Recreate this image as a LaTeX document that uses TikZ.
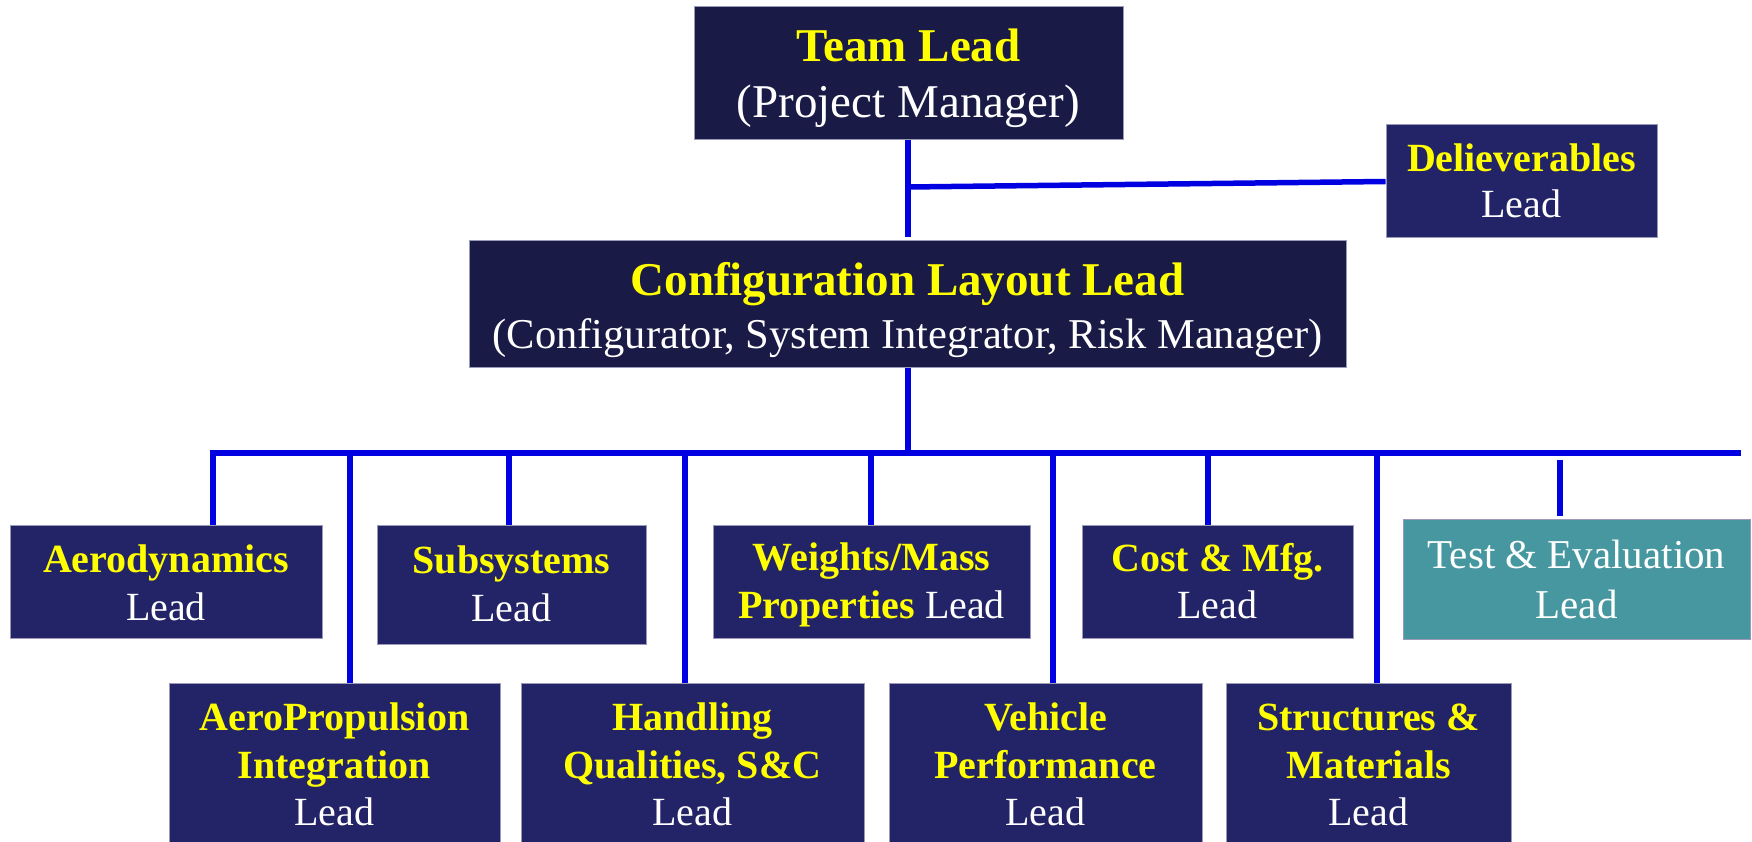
\documentclass[tikz,border=0pt]{standalone}
\usepackage{fontspec}
\setmainfont{Liberation Serif}
\definecolor{darknavy}{HTML}{1A1A47}
\definecolor{navy}{HTML}{232368}
\definecolor{tealbox}{HTML}{46979F}
\definecolor{edgegrey}{HTML}{9A9AB8}
\definecolor{linkblue}{HTML}{0000E0}
\definecolor{headyellow}{HTML}{FFFF00}
\tikzset{
  box/.style={draw=edgegrey, line width=1pt, fill=navy, inner sep=0pt},
  topbox/.style={box, fill=darknavy},
  tebox/.style={box, fill=tealbox},
  hd/.style={anchor=base, inner sep=0pt, text=headyellow, font=\bfseries\fontsize{40}{48}\selectfont},
  ld/.style={anchor=base, inner sep=0pt, text=white, font=\fontsize{40}{48}\selectfont},
  conn/.style={draw=linkblue, line width=5.5pt}
}
\begin{document}
\begin{tikzpicture}[x=1pt,y=-1pt]
\useasboundingbox (0,0) rectangle (1752,842);
% boxes
\node[topbox, minimum width=429, minimum height=133] (tl) at (908.5,73.5) {};
\node[box, minimum width=271, minimum height=113] (dl) at (1521.5,181.5) {};
\node[topbox, minimum width=877, minimum height=126] (cl) at (907.5,304) {};
\node[box, minimum width=312, minimum height=113] (aero) at (166,581.5) {};
\node[box, minimum width=269, minimum height=119] (subs) at (511.5,584.5) {};
\node[box, minimum width=317, minimum height=113] (wts) at (871.5,581.5) {};
\node[box, minimum width=271, minimum height=113] (cost) at (1217.5,581.5) {};
\node[tebox, minimum width=347, minimum height=120] (te) at (1576.5,579) {};
\node[box, minimum width=331, minimum height=165] (aprop) at (334.5,765.5) {};
\node[box, minimum width=343, minimum height=165] (hq) at (692.5,765.5) {};
\node[box, minimum width=313, minimum height=165] (veh) at (1045.5,765.5) {};
\node[box, minimum width=285, minimum height=165] (str) at (1368.5,765.5) {};
% texts
\node[hd, font=\bfseries\fontsize{47}{56}\selectfont] (tl1) at (908.5,62) {Team Lead};
\node[ld, font=\fontsize{47}{56}\selectfont] (tl2) at (908.5,118) {(Project Manager)};
\node[hd] (dl1) at (1521.5,172) {Delieverables};
\node[ld] (dl2) at (1521.5,218) {Lead};
\node[hd, font=\bfseries\fontsize{47}{56}\selectfont] (cl1) at (907.5,295) {Configuration Layout Lead};
\node[ld, font=\fontsize{42.5}{53}\selectfont] (cl2) at (907.5,348) {(Configurator, System Integrator, Risk Manager)};
\node[hd] (aero1) at (166,572) {Aerodynamics};
\node[ld] (aero2) at (166,620) {Lead};
\node[hd] (subs1) at (511.5,573) {Subsystems};
\node[ld] (subs2) at (511.5,621) {Lead};
\node[hd] (wts1) at (871.5,570) {Weights/Mass};
\node[ld] (wts2) at (871.5,618) {{\bfseries\color{headyellow}Properties} Lead};
\node[hd] (cost1) at (1217.5,571) {Cost \& Mfg.};
\node[ld] (cost2) at (1217.5,618) {Lead};
\node[ld, font=\fontsize{41}{50}\selectfont] (te1) at (1576.5,568) {Test \& Evaluation};
\node[ld, font=\fontsize{41}{50}\selectfont] (te2) at (1576.5,618) {Lead};
\node[hd] (aprop1) at (334.5,730) {AeroPropulsion};
\node[hd] (aprop2) at (334.5,778) {Integration};
\node[ld] (aprop3) at (334.5,825) {Lead};
\node[hd] (hq1) at (692.5,730) {Handling};
\node[hd] (hq2) at (692.5,778) {Qualities, S\&C};
\node[ld] (hq3) at (692.5,825) {Lead};
\node[hd] (veh1) at (1045.5,730) {Vehicle};
\node[hd] (veh2) at (1045.5,778) {Performance};
\node[ld] (veh3) at (1045.5,825) {Lead};
\node[hd] (str1) at (1368.5,730) {Structures \&};
\node[hd] (str2) at (1368.5,778) {Materials};
\node[ld] (str3) at (1368.5,825) {Lead};
% connectors
\coordinate (j1) at (908,187);
\coordinate (bus) at (908,453);
\coordinate (busL) at (213,453);
\coordinate (busR) at (1741,453);
\coordinate (dAP) at (350,453);
\coordinate (dSub) at (509,453);
\coordinate (dHQ) at (685,453);
\coordinate (dW) at (871,453);
\coordinate (dV) at (1053,453);
\coordinate (dC) at (1208,453);
\coordinate (dS) at (1377,453);
\coordinate (dT) at (1560,460);
\draw[conn] (tl.south -| j1) -- ([yshift=3pt]cl.north -| j1);
\draw[conn] (j1) -- (dl.west);
\draw[conn] (cl.south -| bus) -- (bus);
\draw[conn] (aero.north -| busL) -- (busL) -- (busR);
\draw[conn] (dAP) -- (dAP |- aprop.north);
\draw[conn] (dSub) -- (dSub |- subs.north);
\draw[conn] (dHQ) -- (dHQ |- hq.north);
\draw[conn] (dW) -- (dW |- wts.north);
\draw[conn] (dV) -- (dV |- veh.north);
\draw[conn] (dC) -- (dC |- cost.north);
\draw[conn] (dS) -- (dS |- str.north);
\draw[conn] (dT) -- ([yshift=3pt]dT |- te.north);
\end{tikzpicture}
\end{document}
